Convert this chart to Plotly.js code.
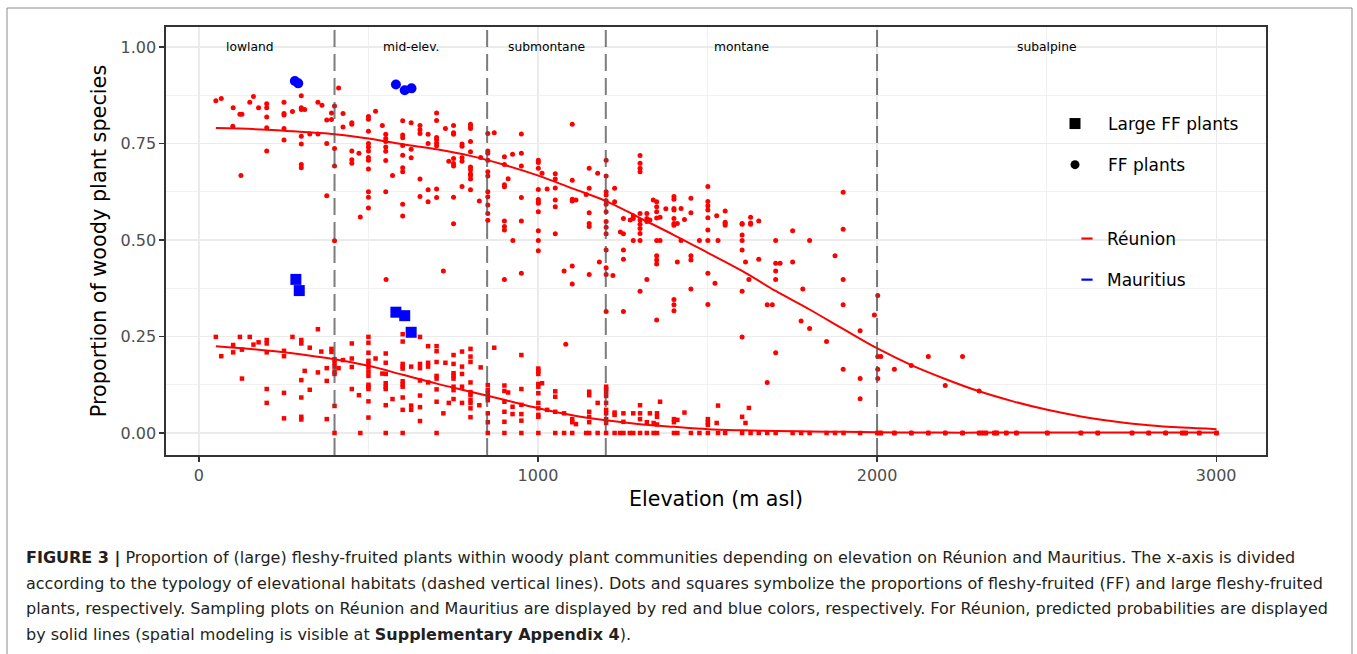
<!DOCTYPE html>
<html>
<head>
<meta charset="utf-8">
<script src="https://cdn.plot.ly/plotly-3.0.1.min.js"></script>
<style>
  html, body { margin: 0; padding: 0; background: #fff; }
  #chart { width: 1357px; height: 654px; }
</style>
</head>
<body>
<div id="chart"></div>
<script>
// ---------- Data ----------
// Réunion, fleshy-fruited (FF) plants: proportion per sampling plot
const ffX = [
  50,66,101,121,127,100,124,150,161,176,
  200,200,200,200,200,251,251,251,251,251,
  276,302,302,302,302,302,302,302,312,327,
  351,363,351,377,377,377,391,391,400,400,
  400,400,412,425,425,451,451,451,451,451,
  472,476,500,500,500,500,500,500,500,500,
  500,500,500,500,521,541,551,551,551,551,
  551,551,551,552,571,601,601,601,601,601,
  601,601,601,601,626,626,626,652,652,652,
  652,652,676,676,676,676,701,701,701,701,
  701,701,701,701,721,727,737,751,751,751,
  751,751,751,751,751,776,776,776,776,776,
  801,801,801,801,801,801,801,801,801,801,
  801,827,831,852,852,852,852,852,852,852,
  852,852,852,852,871,901,901,901,901,901,
  901,901,901,912,925,926,951,951,951,951,
  951,951,1001,1001,1001,1001,1001,1001,1001,1001,
  1001,1001,1001,1012,1027,1051,1051,1051,1051,1051,
  1051,1077,1082,1101,1101,1101,1101,1101,1101,1112,
  1142,1151,1151,1151,1151,1151,1151,1176,1181,1201,
  1201,1201,1201,1201,1201,1201,1201,1201,1201,1201,
  1201,1201,1201,1221,1226,1226,1243,1252,1252,1252,
  1252,1252,1272,1281,1281,1281,1301,1301,1301,1301,
  1301,1301,1301,1301,1301,1301,1301,1321,1321,1321,
  1321,1330,1340,1350,1350,1350,1350,1350,1350,1350,
  1350,1350,1360,1360,1377,1401,1401,1401,1401,1401,
  1401,1401,1401,1401,1401,1411,1411,1422,1422,1432,
  1451,1451,1451,1451,1451,1476,1501,1501,1501,1501,
  1501,1501,1501,1501,1501,1522,1527,1531,1552,1552,
  1552,1552,1602,1602,1602,1602,1602,1602,1602,1612,
  1622,1627,1627,1627,1651,1651,1676,1676,1691,1701,
  1701,1701,1701,1701,1714,1751,1751,1776,1781,1801,
  1801,1851,1876,1900,1900,1900,1900,1900,1950,1950,
  1950,1992,2002,2002,2002,2002,2011,2051,2101,2151,
  2201,2252,2301,
  2001,2011,2051,2101,2151,2201,2252,2301,2311,2321,
  2346,2353,2381,2411,2502,2601,2651,2752,2801,2851,
  2900,2910,2950,3001
];
const ffY = [
  .861,.867,.843,.826,.826,.795,.667,.857,.872,.843,
  .853,.843,.819,.791,.731,.857,.828,.824,.789,.759,
  .833,.874,.843,.838,.769,.749,.696,.687,.838,.775,
  .857,.849,.775,.811,.750,.615,.829,.812,.847,.737,
  .692,.498,.894,.828,.793,.804,.800,.731,.708,.699,
  .725,.560,.820,.813,.782,.750,.741,.731,.714,.707,
  .684,.625,.611,.583,.834,.797,.774,.763,.755,.741,
  .730,.706,.625,.398,.667,.809,.772,.765,.745,.720,
  .687,.677,.593,.562,.804,.735,.713,.797,.786,.776,
  .658,.613,.774,.750,.630,.599,.829,.810,.766,.760,
  .751,.744,.632,.610,.420,.789,.704,.797,.778,.774,
  .711,.698,.692,.611,.542,.749,.743,.713,.704,.639,
  .800,.795,.789,.755,.729,.689,.682,.672,.667,.658,
  .630,.601,.714,.776,.731,.725,.707,.677,.666,.625,
  .612,.591,.569,.551,.778,.716,.696,.643,.638,.549,
  .535,.526,.398,.659,.722,.499,.775,.725,.692,.610,
  .549,.414,.707,.701,.686,.631,.605,.599,.595,.573,
  .524,.499,.472,.673,.632,.672,.658,.635,.604,.586,
  .516,.420,.230,.800,.655,.606,.601,.433,.386,.604,
  .618,.686,.634,.571,.543,.535,.411,.673,.443,.707,
  .666,.625,.617,.602,.593,.573,.548,.533,.516,.474,
  .428,.411,.315,.408,.634,.599,.521,.556,.516,.474,
  .450,.315,.552,.563,.556,.499,.719,.699,.686,.677,
  .569,.552,.541,.530,.517,.499,.367,.569,.556,.548,
  .398,.552,.604,.599,.586,.573,.557,.499,.459,.448,
  .438,.293,.559,.499,.581,.613,.606,.582,.578,.556,
  .543,.538,.346,.332,.317,.543,.443,.582,.499,.553,
  .608,.571,.459,.448,.373,.499,.639,.600,.589,.578,
  .558,.526,.499,.414,.333,.388,.563,.499,.575,.546,
  .543,.538,.543,.541,.513,.499,.474,.367,.249,.443,
  .398,.559,.544,.541,.549,.450,.332,.131,.332,.499,
  .440,.420,.398,.208,.440,.524,.443,.290,.373,.499,
  .271,.237,.459,.624,.528,.398,.332,.165,.265,.141,
  .089,.306,.356,.198,.165,.141,.198,.165,.175,.198,
  .123,.198,.109,
  0,0,0,0,0,0,0,0,0,0,
  0,0,0,0,0,0,0,0,0,0,
  0,0,0,0
];

// Réunion, large fleshy-fruited plants
const lfX = [
  50,66,101,101,121,127,127,150,161,176,
  200,200,200,200,200,251,251,251,251,276,
  302,302,302,302,302,302,312,327,327,351,
  351,361,377,377,377,391,391,400,400,400,
  400,400,400,400,412,425,451,451,451,451,
  472,476,500,500,500,500,500,500,500,500,
  500,500,500,500,500,521,541,551,551,551,
  551,551,551,551,551,571,601,601,601,601,
  601,601,601,601,601,601,601,626,626,626,
  652,652,652,652,652,652,652,676,676,676,
  676,701,701,701,701,701,701,701,701,721,
  727,737,751,751,751,751,751,751,751,751,
  776,776,776,776,776,801,801,801,801,801,
  801,801,801,801,801,827,831,852,852,852,
  852,852,852,852,852,871,901,901,901,901,
  901,901,912,925,925,951,951,951,951,951,
  951,1001,1001,1001,1001,1001,1001,1001,1001,1001,
  1001,1001,1012,1027,1051,1051,1051,1051,1077,1077,
  1101,1101,1101,1112,1142,1151,1151,1151,1151,1151,
  1151,1176,1176,1201,1201,1201,1201,1201,1201,1201,
  1201,1201,1201,1226,1226,1226,1242,1252,1252,1252,
  1271,1281,1281,1301,1301,1301,1301,1321,1321,1330,
  1341,1341,1351,1351,1351,1351,1360,1401,1401,1401,
  1411,1411,1432,1451,1476,1501,1501,1501,1501,1527,
  1531,1531,1552,1602,1602,1612,1622,1627,1651,1676,
  1701,1751,1776,1801,1851,1876,1901,1950,
  2001,2011,2051,2101,2151,2201,2252,2301,2311,2321,
  2346,2353,2381,2411,2502,2601,2651,2752,2801,2851,
  2900,2910,2950,3001
];
const lfY = [
  .249,.199,.228,.209,.249,.216,.141,.249,.229,.235,
  .241,.232,.209,.114,.078,.213,.199,.104,.038,.249,
  .241,.232,.137,.092,.042,.035,.161,.221,.112,.269,
  .157,.211,.168,.135,.036,.218,.210,.191,.182,.172,
  .159,.153,.070,0,.168,.189,.232,.193,.171,.114,
  .098,0,.249,.234,.208,.187,.179,.170,.159,.148,
  .125,.120,.114,.082,.040,.193,.154,.206,.182,.153,
  .129,.120,.114,.072,0,.088,.256,.237,.179,.172,
  .167,.134,.126,.120,.092,.060,0,.172,.071,.060,
  .249,.179,.168,.136,.097,.067,.031,.225,.182,.172,
  .131,.225,.212,.184,.148,.141,.113,.081,0,.051,
  .182,.078,.202,.179,.155,.148,.141,.120,.111,.088,
  .211,.172,.153,.120,.078,.218,.198,.184,.131,.106,
  .098,.085,.078,.064,.041,.072,.170,.124,.111,.103,
  .094,.085,.051,.028,0,.221,.123,.109,.081,.055,
  .029,0,.105,.068,.049,.202,.114,.073,.049,.032,
  0,.167,.161,.153,.127,.120,.103,.078,.064,.047,
  .042,0,.129,.060,.108,.094,.055,0,.051,0,
  .036,.028,0,.023,0,.107,.098,.055,.042,.028,
  0,.078,0,.120,.114,.107,.096,.078,.060,.051,
  .036,.026,0,.053,.047,0,0,.051,.029,0,
  0,.051,0,.072,.051,.036,0,.028,0,.051,
  .026,0,.051,.042,.022,0,.081,.036,.028,0,
  .034,0,.053,0,0,.036,.027,.021,0,.026,
  .071,0,0,.042,0,.026,.065,0,0,0,
  0,0,0,0,0,0,0,0,
  0,0,0,0,0,0,0,0,0,0,
  0,0,0,0,0,0,0,0,0,0,
  0,0,0,0
];

// Mauritius plots
const mauFFX = [283, 293, 581, 607, 627];
const mauFFY = [0.912, 0.906, 0.903, 0.888, 0.893];
const mauLFX = [286, 296, 581, 607, 626];
const mauLFY = [0.398, 0.369, 0.313, 0.304, 0.261];

// Réunion predicted probabilities (solid lines)
const curveX  = [50,200,251,400,500,601,701,801,900,1001,1101,1201,1301,1401,1501,1602,1701,1801,1901,2001,2101,2201,2301,2401,2502,2601,2701,2801,2900,3001];
const curveFF = [.790,.786,.783,.774,.763,.748,.735,.718,.695,.667,.634,.601,.557,.513,.467,.420,.368,.320,.269,.219,.176,.140,.108,.082,.060,.043,.030,.020,.014,.010];
const curveLF = [.225,.214,.209,.191,.174,.151,.128,.107,.086,.064,.046,.033,.023,.016,.010,.007,.005,.004,.003,.002,.0015,.001,.001,.001,.001,.001,.001,.001,.001,.001];

// Elevational habitat boundaries and labels
const zoneBreaks = [400, 850, 1200, 2000];
const zoneNames  = ["lowland", "mid-elev.", "submontane", "montane", "subalpine"];
const zoneLabelX = [150, 625, 1025, 1600, 2500];

// Axis ticks
const xTickVals = [0, 1000, 2000, 3000];
const xTickText = ["0", "1000", "2000", "3000"];
const yTickVals = [0, 0.25, 0.5, 0.75, 1];
const yTickText = ["0.00", "0.25", "0.50", "0.75", "1.00"];

// Caption lines
const captionLines = [
  "<b>FIGURE 3 |</b> Proportion of (large) fleshy-fruited plants within woody plant communities depending on elevation on Réunion and Mauritius. The x-axis is divided",
  "according to the typology of elevational habitats (dashed vertical lines). Dots and squares symbolize the proportions of fleshy-fruited (FF) and large fleshy-fruited",
  "plants, respectively. Sampling plots on Réunion and Mauritius are displayed by red and blue colors, respectively. For Réunion, predicted probabilities are displayed",
  "by solid lines (spatial modeling is visible at <b>Supplementary Appendix 4</b>)."
];

// ---------- Chart ----------
const RED = "#ff0000", BLUE = "#0000ff";
const FONT = "DejaVu Sans, Verdana, sans-serif";

const traces = [
  { type: "scatter", mode: "markers", x: ffX, y: ffY, showlegend: false, hoverinfo: "x+y",
    marker: { symbol: "circle", size: 5, color: RED } },
  { type: "scatter", mode: "markers", x: lfX, y: lfY, showlegend: false, hoverinfo: "x+y",
    marker: { symbol: "square", size: 4.5, color: RED } },
  { type: "scatter", mode: "lines", x: curveX, y: curveFF, showlegend: false, hoverinfo: "skip",
    line: { color: RED, width: 2, shape: "spline" } },
  { type: "scatter", mode: "lines", x: curveX, y: curveLF, showlegend: false, hoverinfo: "skip",
    line: { color: RED, width: 2, shape: "spline" } },
  { type: "scatter", mode: "markers", x: mauFFX, y: mauFFY, showlegend: false,
    marker: { symbol: "circle", size: 10, color: BLUE } },
  { type: "scatter", mode: "markers", x: mauLFX, y: mauLFY, showlegend: false,
    marker: { symbol: "square", size: 11, color: BLUE } },
  // legend entries
  { type: "scatter", mode: "markers", x: [null], y: [null], name: "Large FF plants",
    legend: "legend", legendgroup: "a", marker: { symbol: "square", size: 11, color: "#000" } },
  { type: "scatter", mode: "markers", x: [null], y: [null], name: "FF plants",
    legend: "legend", legendgroup: "b", marker: { symbol: "circle", size: 9, color: "#000" } },
  { type: "scatter", mode: "markers", x: [null], y: [null], name: "Réunion",
    legend: "legend2", legendgroup: "c",
    marker: { symbol: "line-ew", size: 8, color: RED, line: { color: RED, width: 2.2 } } },
  { type: "scatter", mode: "markers", x: [null], y: [null], name: "Mauritius",
    legend: "legend2", legendgroup: "d",
    marker: { symbol: "line-ew", size: 8, color: BLUE, line: { color: BLUE, width: 2.2 } } }
];

const shapes = zoneBreaks.map(b => ({
  type: "line", xref: "x", yref: "paper", x0: b, x1: b, y0: 0, y1: 1, layer: "above",
  line: { color: "rgba(80,80,80,0.75)", width: 2, dash: "17px,7px" }
}));
// outer figure frame (open at the bottom, like the cropped journal figure)
shapes.push({
  type: "rect", xref: "paper", yref: "paper",
  x0: (7 - 166) / 1100, x1: (1352 - 166) / 1100,
  y0: -0.6, y1: (455 - 8) / 428, layer: "below",
  line: { color: "#8c8c8c", width: 1 }
});

const annotations = zoneNames.map((n, i) => ({
  x: zoneLabelX[i], y: 1.0, xref: "x", yref: "y", text: n, showarrow: false,
  xanchor: "center", yanchor: "middle", font: { family: FONT, size: 12.3, color: "#000" }
}));
const capY = [558, 583, 608, 634];
captionLines.forEach((t, i) => annotations.push({
  xref: "paper", yref: "paper", x: (24 - 166) / 1100, y: (455 - capY[i]) / 428,
  xanchor: "left", yanchor: "middle", showarrow: false, align: "left",
  text: t, font: { family: FONT, size: 16.0, color: "#231f20" }
}));

const gridMajor = "#ebebeb";
const layout = {
  width: 1357, height: 654,
  margin: { l: 166, r: 91, t: 27, b: 199, pad: 0 },
  paper_bgcolor: "#fff", plot_bgcolor: "#fff",
  font: { family: FONT },
  xaxis: {
    range: [-97, 3147], tickvals: xTickVals, ticktext: xTickText,
    ticks: "outside", ticklen: 5, tickwidth: 1.3, tickcolor: "#333",
    tickfont: { family: FONT, size: 16, color: "#4d4d4d" },
    showgrid: true, gridcolor: gridMajor, gridwidth: 1.3,
    minor: { tickvals: [500, 1500, 2500], showgrid: true, gridcolor: gridMajor, gridwidth: 0.7, ticks: "" },
    zeroline: false, showline: true, mirror: true, linecolor: "#333", linewidth: 1.6,
    title: { text: "Elevation (m asl)", font: { family: FONT, size: 20.6, color: "#000" }, standoff: 8 }
  },
  yaxis: {
    range: [-0.057, 1.052], tickvals: yTickVals, ticktext: yTickText,
    ticks: "outside", ticklen: 5, tickwidth: 1.3, tickcolor: "#333",
    tickfont: { family: FONT, size: 16, color: "#4d4d4d" },
    showgrid: true, gridcolor: gridMajor, gridwidth: 1.3,
    minor: { tickvals: [0.125, 0.375, 0.625, 0.875], showgrid: true, gridcolor: gridMajor, gridwidth: 0.7, ticks: "" },
    zeroline: false, showline: true, mirror: true, linecolor: "#333", linewidth: 1.6,
    title: { text: "Proportion of woody plant species", font: { family: FONT, size: 20.8, color: "#000" }, standoff: 8 }
  },
  legend: {
    x: (1042 - 166) / 1100, y: (455 - 106) / 428, xanchor: "left", yanchor: "top",
    bgcolor: "rgba(0,0,0,0)", font: { family: FONT, size: 17, color: "#000" },
    itemwidth: 56, tracegroupgap: 16, itemclick: false
  },
  legend2: {
    x: (1067 - 166) / 1100, y: (455 - 221) / 428, xanchor: "left", yanchor: "top",
    bgcolor: "rgba(0,0,0,0)", font: { family: FONT, size: 17, color: "#000" },
    itemwidth: 30, tracegroupgap: 16, itemclick: false
  },
  shapes: shapes,
  annotations: annotations
};

Plotly.newPlot("chart", traces, layout, { staticPlot: true, displayModeBar: false });
</script>
</body>
</html>
